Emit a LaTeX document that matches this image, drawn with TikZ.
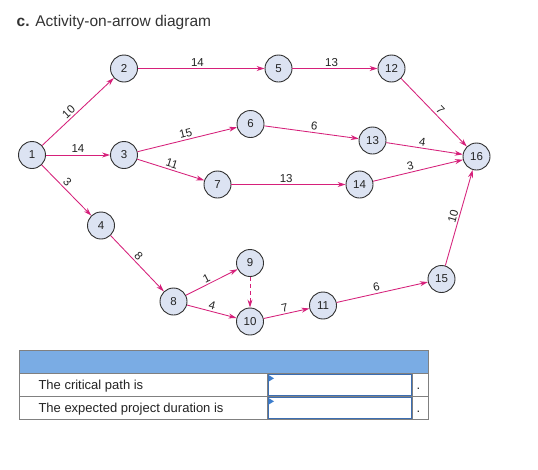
\documentclass[tikz,border=0pt]{standalone}
\usepackage{fontspec}
\setmainfont{Liberation Sans}
\usetikzlibrary{arrows.meta}
\definecolor{pinkc}{RGB}{214,32,122}
\definecolor{evfill}{RGB}{220,227,242}
\definecolor{evline}{RGB}{50,50,50}
\definecolor{txt}{RGB}{35,35,35}
\definecolor{titlec}{RGB}{51,51,51}
\definecolor{headblue}{RGB}{122,172,228}
\definecolor{cellgray}{RGB}{128,128,128}
\definecolor{boxblue}{RGB}{60,110,178}
\definecolor{tri}{RGB}{60,125,205}
\tikzset{
  ev/.style={circle, draw=evline, fill=evfill, line width=0.9pt, minimum size=27pt, inner sep=0pt, text=txt, font=\fontsize{11.5}{13}\selectfont},
  act/.style={draw=pinkc, line width=0.85pt, -{Stealth[length=8pt,width=5pt]}},
  dum/.style={act, dash pattern=on 4pt off 3pt},
  lab/.style={font=\fontsize{11.5}{13}\selectfont, text=txt, sloped, above, inner sep=1.8pt},
  tabtxt/.style={font=\fontsize{13}{15}\selectfont, text=txt, anchor=base west, inner sep=0pt}
}
\begin{document}
\begin{tikzpicture}[x=1pt,y=-1pt]
\useasboundingbox (0,0) rectangle (538,469);
\fill[white] (0,0) rectangle (538,469);
% title
\node[anchor=base west, inner sep=0pt, text=titlec, font=\fontsize{15.5}{18}\selectfont] (title) at (16.5,26.5) {\textbf{c.} Activity-on-arrow diagram};
% events
\node[ev] (n1) at (32,155) {1};
\node[ev] (n2) at (124,68.5) {2};
\node[ev] (n3) at (124,155) {3};
\node[ev] (n4) at (101,225.5) {4};
\node[ev] (n5) at (278.5,68.5) {5};
\node[ev] (n6) at (250.5,124) {6};
\node[ev] (n7) at (217.5,184.5) {7};
\node[ev] (n8) at (173.5,301.5) {8};
\node[ev] (n9) at (250,263) {9};
\node[ev] (n10) at (250,321.5) {10};
\node[ev] (n11) at (323,305.5) {11};
\node[ev] (n12) at (391.5,68.5) {12};
\node[ev] (n13) at (372.5,140.5) {13};
\node[ev] (n14) at (359.5,184.5) {14};
\node[ev] (n15) at (441.5,279) {15};
\node[ev] (n16) at (476.5,156.5) {16};
% activities
\draw[act] (n1) -- node[lab, pos=0.43] (l12) {10} (n2);
\draw[act] (n1) -- node[lab, pos=0.5] (l13) {14} (n3);
\draw[act] (n1) -- node[lab, pos=0.43] (l14) {3} (n4);
\draw[act] (n2) -- node[lab, pos=0.47] (l25) {14} (n5);
\draw[act] (n3) -- node[lab, pos=0.5] (l36) {15} (n6);
\draw[act] (n3) -- node[lab, pos=0.49] (l37) {11} (n7);
\draw[act] (n4) -- node[lab, pos=0.44] (l48) {8} (n8);
\draw[act] (n5) -- node[lab, pos=0.46] (l512) {13} (n12);
\draw[act] (n6) -- node[lab, pos=0.52] (l613) {6} (n13);
\draw[act] (n7) -- node[lab, pos=0.48] (l714) {13} (n14);
\draw[act] (n8) -- node[lab, pos=0.45] (l89) {1} (n9);
\draw[act] (n8) -- node[lab, pos=0.48] (l810) {4} (n10);
\draw[dum] (n9) -- (n10);
\draw[act] (n10) -- node[lab, pos=0.49] (l1011) {7} (n11);
\draw[act] (n11) -- node[lab, pos=0.45] (l1115) {6} (n15);
\draw[act] (n12) -- node[lab, pos=0.53] (l1216) {7} (n16);
\draw[act] (n13) -- node[lab, pos=0.46] (l1316) {4} (n16);
\draw[act] (n14) -- node[lab, pos=0.43] (l1416) {3} (n16);
\draw[act] (n15) -- node[lab, pos=0.5] (l1516) {10} (n16);
% table
\fill[headblue] (19.5,350.5) rectangle (428.5,373.5);
\draw[cellgray, line width=1pt] (19.5,350.5) rectangle (428.5,419.5);
\draw[cellgray, line width=1pt] (19.5,373.5) -- (428.5,373.5);
\draw[cellgray, line width=1pt] (19.5,396.5) -- (428.5,396.5);
\draw[cellgray, line width=1pt] (267.5,373.5) -- (267.5,419.5);
\draw[cellgray, line width=1pt] (412.5,373.5) -- (412.5,419.5);
\draw[boxblue, line width=1.3pt] (268.2,374.2) rectangle (411.6,395.8);
\draw[boxblue, line width=1.3pt] (268.2,397.2) rectangle (411.6,418.8);
\fill[tri] (268.5,375) -- (274,378.3) -- (268.5,381.7) -- cycle;
\fill[tri] (268.5,398) -- (274,401.3) -- (268.5,404.7) -- cycle;
\node[tabtxt] (t1) at (38.3,389.3) {The critical path is};
\node[tabtxt] (t2) at (38.3,412.3) {The expected project duration is};
\node[tabtxt] (d1) at (416.5,389.3) {.};
\node[tabtxt] (d2) at (416.5,412.3) {.};
\end{tikzpicture}
\end{document}
